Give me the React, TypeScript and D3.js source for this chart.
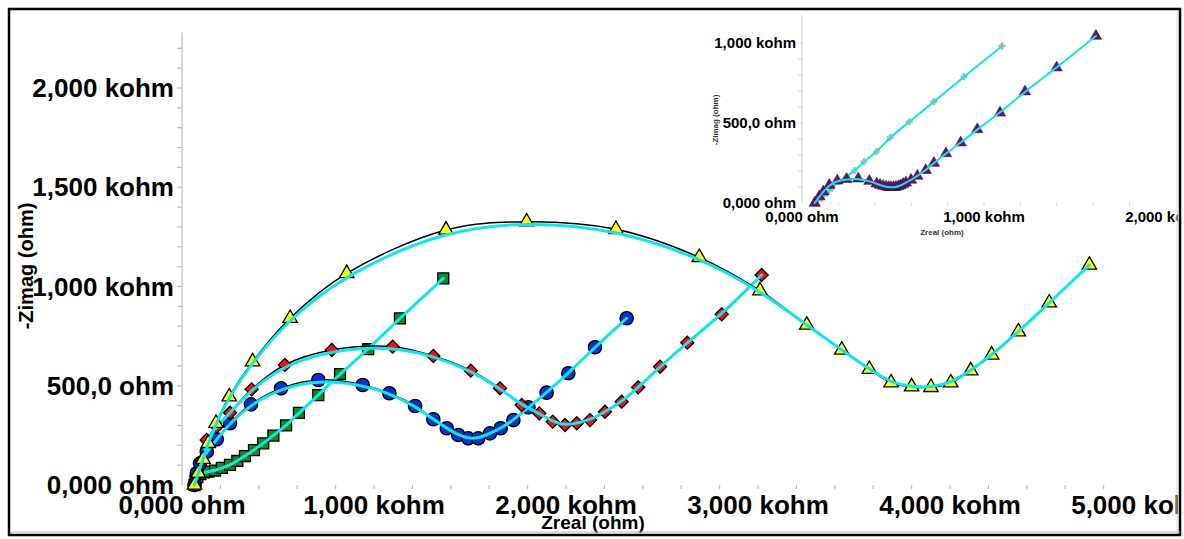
import React from 'react';
import * as d3 from 'd3';

type Pt = [number, number];

// Main chart series (Zreal ohm, -Zimag ohm)
const yellowTriangles: Pt[] = [
  [65, 0], [85, 60], [110, 130], [137, 210], [177, 311], [246, 445], [368, 621], [563, 840],
  [858, 1066], [1375, 1285], [1795, 1326], [2260, 1288], [2694, 1147], [3010, 979], [3254, 806],
  [3436, 680], [3580, 583], [3693, 515], [3800, 495], [3901, 492], [4004, 515], [4108, 576],
  [4217, 655], [4356, 772], [4517, 918], [4726, 1108],
];
const redDiamonds: Pt[] = [
  [65, 0], [80, 50], [100, 120], [128, 227], [181, 294], [250, 364], [363, 482], [536, 605],
  [780, 680], [1097, 697], [1309, 650], [1504, 576], [1656, 487], [1769, 403], [1861, 361],
  [1931, 319], [1995, 302], [2056, 311], [2125, 327], [2203, 369], [2290, 420], [2376, 492],
  [2490, 596], [2632, 717], [2811, 860], [3019, 1058],
];
const blueCircles: Pt[] = [
  [65, 0], [77, 59], [94, 109], [129, 168], [181, 230], [250, 311], [359, 406], [516, 487],
  [710, 529], [941, 504], [1080, 462], [1214, 398], [1309, 331], [1379, 286], [1439, 252],
  [1491, 235], [1543, 235], [1604, 260], [1660, 286], [1726, 327], [1804, 391], [1899, 465],
  [2012, 563], [2151, 694], [2316, 840],
];
const greenSquares: Pt[] = [
  [65, 0], [70, 20], [80, 40], [95, 55], [115, 63], [137, 67], [172, 73], [208, 86], [250, 101],
  [288, 121], [328, 146], [375, 176], [423, 210], [476, 249], [542, 300], [609, 363], [710, 453],
  [823, 559], [970, 684], [1135, 840], [1361, 1041],
];

// Inset series
const insetCrosses: Pt[] = [
  [70, 0], [108, 29], [136, 61], [163, 92], [200, 133], [245, 165], [288, 202], [341, 258],
  [410, 321], [484, 410], [590, 508], [725, 633], [890, 789], [1099, 981],
];
const insetTriangles: Pt[] = [
  [70, 0], [95, 40], [117, 71], [150, 112], [194, 139], [245, 148], [309, 152], [370, 137],
  [410, 120], [429, 112], [446, 106], [462, 102], [476, 99], [489, 98], [503, 99], [516, 100],
  [530, 104], [542, 110], [556, 118], [571, 127], [599, 144], [634, 169], [680, 205], [725, 250],
  [791, 310], [872, 377], [963, 460], [1088, 564], [1225, 696], [1399, 846], [1615, 1044],
];

const yTickValues = [0, 500, 1000, 1500, 2000];
const yTickLabels = ['0,000 ohm', '500,0 ohm', '1,000 kohm', '1,500 kohm', '2,000 kohm'];
const xTickValues = [0, 1000, 2000, 3000, 4000, 5000];
const xTickLabels = ['0,000 ohm', '1,000 kohm', '2,000 kohm', '3,000 kohm', '4,000 kohm', '5,000 kohm'];
const insetYTickValues = [0, 500, 1000];
const insetYTickLabels = ['0,000 ohm', '500,0 ohm', '1,000 kohm'];
const insetXTickValues = [0, 1000, 2000];
const insetXTickLabels = ['0,000 ohm', '1,000 kohm', '2,000 kohm'];

const FONT = "'Liberation Sans', Arial, sans-serif";
const CYAN = '#12e4ef';

type Scale = d3.ScaleLinear<number, number>;

function Series(props: {
  data: Pt[]; x: Scale; y: Scale; symbol: d3.SymbolType; size: number; fill: string;
  stroke: string; strokeWidth: number; rotate?: number; cyanWidth: number; blackWidth: number;
}) {
  const { data, x, y, symbol, size, fill, stroke, strokeWidth, rotate, cyanWidth, blackWidth } = props;
  const black = d3.line<Pt>().x(d => x(d[0])).y(d => y(d[1])).curve(d3.curveCatmullRom.alpha(0.5))(data) || '';
  const cyan = d3.line<Pt>().x(d => x(d[0])).y(d => y(d[1])).curve(d3.curveBasis)(data) || '';
  const sym = d3.symbol().type(symbol).size(size)() || '';
  return (
    <g>
      <path d={black} fill="none" stroke="#000" strokeWidth={blackWidth} />
      {data.map((d, i) => (
        <path key={i} d={sym} transform={`translate(${x(d[0])},${y(d[1])}) rotate(${rotate || 0})`}
          fill={fill} stroke={stroke} strokeWidth={strokeWidth} />
      ))}
      <path d={cyan} fill="none" stroke={CYAN} strokeWidth={cyanWidth} strokeLinecap="round" />
    </g>
  );
}

export default function App() {
  const x = d3.scaleLinear().domain([0, 5000]).range([182, 1142]);
  const y = d3.scaleLinear().domain([0, 2000]).range([485, 88]);
  const ix = d3.scaleLinear().domain([0, 2000]).range([802, 1166]);
  const iy = d3.scaleLinear().domain([0, 1000]).range([203, 43]);

  const xMinor = d3.range(200, 4801, 200);
  const yMinor = d3.range(100, 2201, 100);
  const ixMinor = d3.range(200, 1801, 200);
  const iyMinor = d3.range(100, 1001, 100);

  return (
    <svg width={1184} height={539} style={{ position: 'absolute', left: 0, top: 0, background: '#fff' }}
      fontFamily={FONT}>
      <defs>
        <clipPath id="inner"><rect x={10} y={10} width={1168} height={524} /></clipPath>
      </defs>
      <rect x={0} y={0} width={1184} height={539} fill="#fff" />
      <g clipPath="url(#inner)">
        {/* Main y axis */}
        <line x1={182} x2={182} y1={y(2280)} y2={y(0)} stroke="#bdbdbd" strokeWidth={1.2} />
        {yMinor.map(v => (
          <line key={v} x1={177} x2={182} y1={y(v)} y2={y(v)} stroke="#bdbdbd" strokeWidth={1.2} />
        ))}
        {xMinor.map(v => (
          <line key={v} x1={x(v)} x2={x(v)} y1={485} y2={489} stroke="#bdbdbd" strokeWidth={1.2} />
        ))}
        {yTickValues.map((v, i) => (
          <text key={v} x={174} y={y(v) + 9} textAnchor="end" fontSize={26} fontWeight="bold" fill="#000">
            {yTickLabels[i]}
          </text>
        ))}
        {xTickValues.map((v, i) => (
          <text key={v} x={x(v)} y={514} textAnchor="middle" fontSize={26} fontWeight="bold" fill="#000">
            {xTickLabels[i]}
          </text>
        ))}
        <text transform="translate(33,266) rotate(-90)" textAnchor="middle" fontSize={20} fontWeight="bold">
          -Zimag (ohm)
        </text>
        <text x={593} y={529} textAnchor="middle" fontSize={19} fontWeight="bold">Zreal (ohm)</text>

        {/* Inset axes */}
        <line x1={802} x2={802} y1={15} y2={203} stroke="#d0d0d0" strokeWidth={1} />
        {iyMinor.map(v => (
          <line key={v} x1={798} x2={802} y1={iy(v)} y2={iy(v)} stroke="#d0d0d0" strokeWidth={1} />
        ))}
        {ixMinor.map(v => (
          <line key={v} x1={ix(v)} x2={ix(v)} y1={203} y2={206} stroke="#d0d0d0" strokeWidth={1} />
        ))}
        {insetYTickValues.map((v, i) => (
          <text key={v} x={796} y={iy(v) + 5} textAnchor="end" fontSize={15} fontWeight="bold">
            {insetYTickLabels[i]}
          </text>
        ))}
        {insetXTickValues.map((v, i) => (
          <text key={v} x={ix(v)} y={222} textAnchor="middle" fontSize={15} fontWeight="bold">
            {insetXTickLabels[i]}
          </text>
        ))}
        <text transform="translate(718,120) rotate(-90)" textAnchor="middle" fontSize={8} fontWeight="bold" fill="#333">
          -Zimag (ohm)
        </text>
        <text x={942} y={235} textAnchor="middle" fontSize={8} fontWeight="bold" fill="#333">Zreal (ohm)</text>

        <Series data={insetCrosses} x={ix} y={iy} symbol={d3.symbolCross} size={22} fill="#c4c4c4"
          stroke="#999" strokeWidth={0.5} rotate={0} cyanWidth={2} blackWidth={1} />
        <Series data={insetTriangles} x={ix} y={iy} symbol={d3.symbolTriangle} size={55} fill="#6e0f73"
          stroke="#222" strokeWidth={0.6} cyanWidth={2} blackWidth={1} />

        {/* Main series */}
        <Series data={greenSquares} x={x} y={y} symbol={d3.symbolSquare} size={120} fill="#178a17"
          stroke="#000" strokeWidth={1.3} cyanWidth={3} blackWidth={1.5} />
        <Series data={blueCircles} x={x} y={y} symbol={d3.symbolCircle} size={140} fill="#0c2fd0"
          stroke="#000" strokeWidth={1.3} cyanWidth={3} blackWidth={1.5} />
        <Series data={redDiamonds} x={x} y={y} symbol={d3.symbolSquare} size={85} fill="#ff0a0a"
          stroke="#000" strokeWidth={1.3} rotate={45} cyanWidth={3} blackWidth={1.5} />
        <Series data={yellowTriangles} x={x} y={y} symbol={d3.symbolTriangle} size={90} fill="#ffff00"
          stroke="#000" strokeWidth={1.3} cyanWidth={3} blackWidth={1.5} />
      </g>
      {/* Frame */}
      <rect x={9} y={9} width={1171} height={526} fill="none" stroke="#000" strokeWidth={2.5} />
      <line x1={10} x2={1180} y1={532} y2={532} stroke="#bbb" strokeWidth={1} />
      <line x1={1177} x2={1177} y1={10} y2={532} stroke="#ddd" strokeWidth={1} />
    </svg>
  );
}
